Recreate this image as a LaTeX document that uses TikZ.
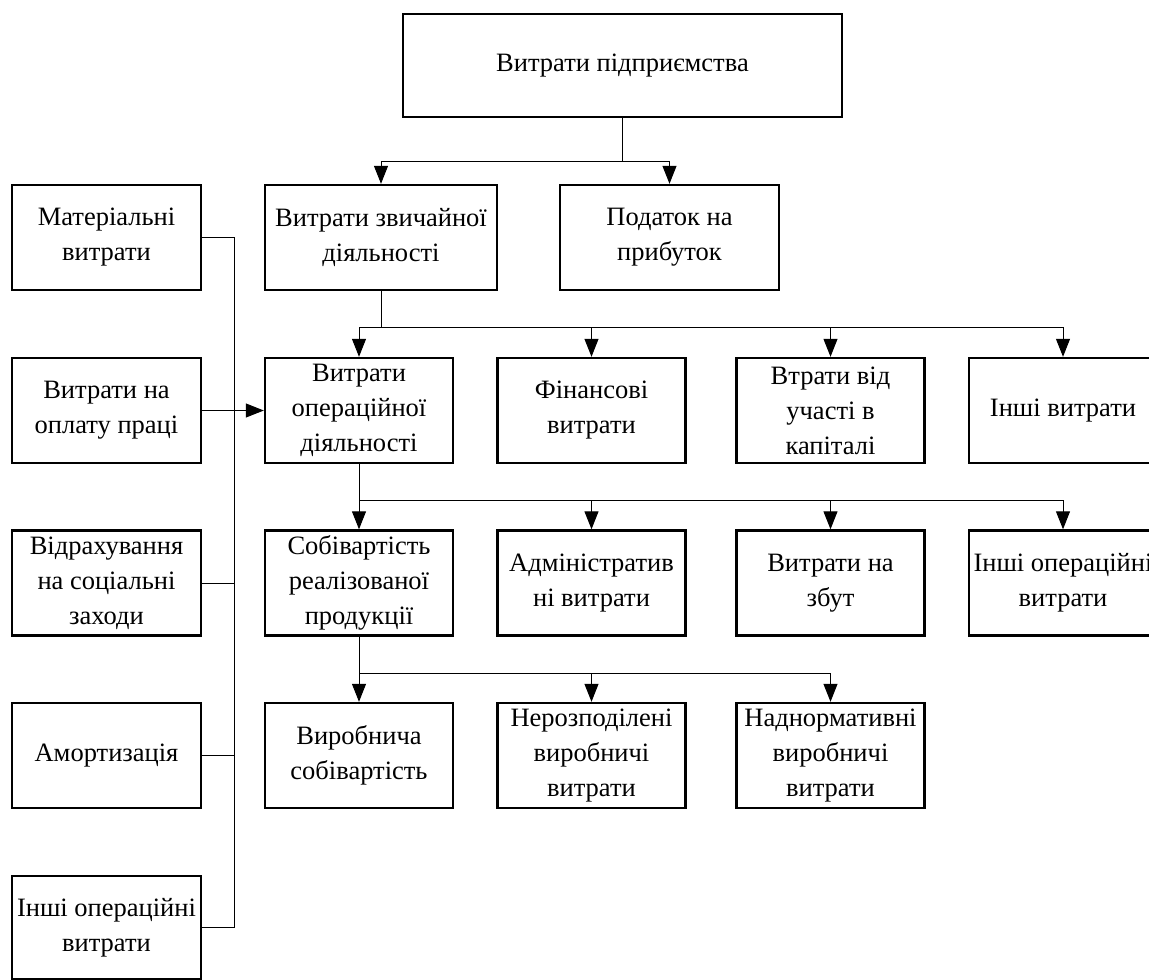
\documentclass[tikz,border=0pt]{standalone}
\usepackage{fontspec}
\setmainfont{Liberation Serif}
\usetikzlibrary{arrows.meta}
\tikzset{
  box/.style={draw, line width=2.4pt, align=center, inner sep=0pt,
    font=\fontsize{26.5}{35}\selectfont, minimum width=188pt, minimum height=105pt},
  conn/.style={line width=1pt},
  bus/.style={line width=1.4pt},
  arr/.style={line width=1pt, -{Triangle[length=18pt,width=14pt]}}
}
\begin{document}
\begin{tikzpicture}[x=1pt,y=-1pt]
\useasboundingbox (0,0) rectangle (1149,980);
% top
\node[box, minimum width=439pt, minimum height=103pt] (top) at (622.5,65.5) {Витрати підприємства};
% row 2
\node[box, minimum width=189pt] (mat) at (106.5,237.5) {Матеріальні\\витрати};
\node[box, minimum width=232pt] (zv) at (381,237.5) {Витрати звичайної\\діяльності};
\node[box, minimum width=219pt] (pod) at (669.5,237.5) {Податок на\\прибуток};
% row 3
\node[box, minimum width=189pt] (opl) at (106.5,410.5) {Витрати на\\оплату праці};
\node[box] (op) at (359,410.5) {Витрати\\операційної\\діяльності};
\node[box] (fin) at (591.5,410.5) {Фінансові\\витрати};
\node[box] (vtr) at (830.5,410.5) {Втрати від\\участі в\\капіталі};
\node[box] (inv) at (1063,410.5) {Інші витрати};
% row 4
\node[box, minimum width=189pt] (vid) at (106.5,583) {Відрахування\\на соціальні\\заходи};
\node[box] (sob) at (359,583) {Собівартість\\реалізованої\\продукції};
\node[box] (adm) at (591.5,583) {Адміністратив\\ні витрати};
\node[box] (zb) at (830.5,583) {Витрати на\\збут};
\node[box] (iov) at (1063,583) {Інші операційні\\витрати};
% row 5
\node[box, minimum width=189pt] (am) at (106.5,755.5) {Амортизація};
\node[box] (vs) at (359,755.5) {Виробнича\\собівартість};
\node[box] (nv) at (591.5,755.5) {Нерозподілені\\виробничі\\витрати};
\node[box] (nn) at (830.5,755.5) {Наднормативні\\виробничі\\витрати};
% row 6
\node[box, minimum width=189pt, minimum height=103pt] (io2) at (106.5,927.5) {Інші операційні\\витрати};
% connectors top
\draw[conn] (top.south) -- ++(0,43) coordinate (b1);
\draw[arr] (b1) -| (zv.north);
\draw[arr] (b1) -| (pod.north);
% zv -> row 3
\draw[conn] (zv.south) -- ++(0,36) coordinate (b2);
\draw[bus] (b2 -| op.north) -- (b2 -| inv.north);
\draw[arr] (b2 -| op.north) -- (op.north);
\draw[arr] (b2 -| fin.north) -- (fin.north);
\draw[arr] (b2 -| vtr.north) -- (vtr.north);
\draw[arr] (b2 -| inv.north) -- (inv.north);
% op -> row 4
\draw[conn] (op.south) -- ++(0,36) coordinate (b3);
\draw[bus] (b3) -- (b3 -| iov.north);
\draw[arr] (b3) -- (sob.north);
\draw[arr] (b3 -| adm.north) -- (adm.north);
\draw[arr] (b3 -| zb.north) -- (zb.north);
\draw[arr] (b3 -| iov.north) -- (iov.north);
% sob -> row 5
\draw[conn] (sob.south) -- ++(0,37) coordinate (b4);
\draw[bus] (b4) -- (b4 -| nn.north);
\draw[arr] (b4) -- (vs.north);
\draw[arr] (b4 -| nv.north) -- (nv.north);
\draw[arr] (b4 -| nn.north) -- (nn.north);
% left bus
\coordinate (lt) at (234,237.5);
\draw[conn] (mat.east) -- (lt) -- (lt |- io2.east) -- (io2.east);
\draw[conn] (vid.east) -- (vid.east -| lt);
\draw[conn] (am.east) -- (am.east -| lt);
\draw[arr] (opl.east) -- (op.west);
\end{tikzpicture}
\end{document}
